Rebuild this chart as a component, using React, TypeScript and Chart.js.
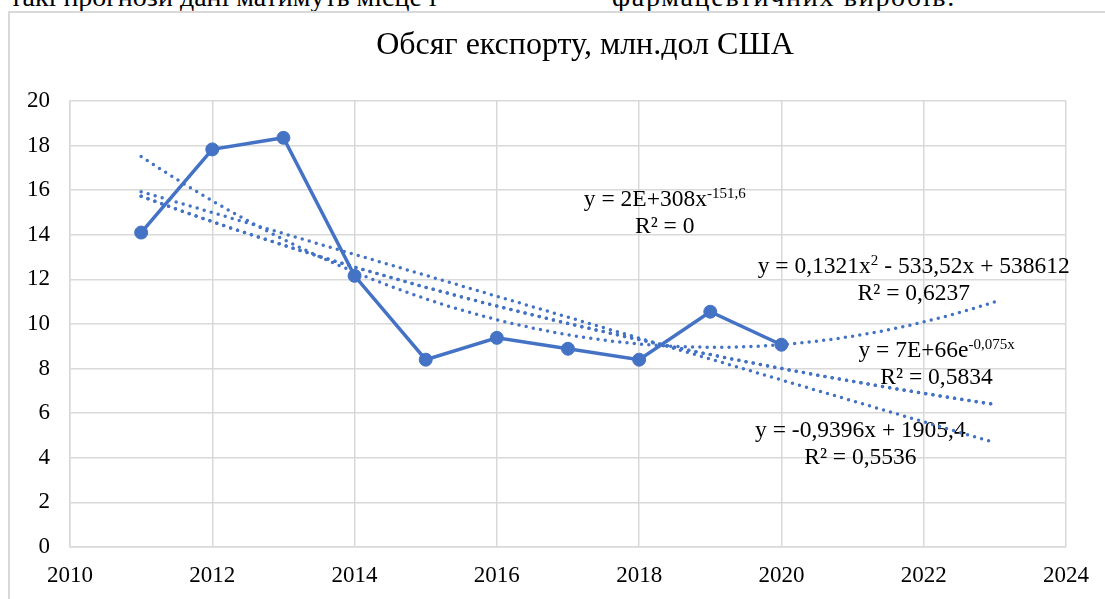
import React, { useEffect, useRef } from "react";
import { Chart, registerables } from "chart.js";

Chart.register(...registerables);

// ---------- data ----------
const years = [2011, 2012, 2013, 2014, 2015, 2016, 2017, 2018, 2019, 2020];
const exportVolume = [14.1, 17.83, 18.35, 12.16, 8.4, 9.38, 8.89, 8.4, 10.55, 9.07];
const xTicks = [2010, 2012, 2014, 2016, 2018, 2020, 2022, 2024];
const yTicks = [0, 2, 4, 6, 8, 10, 12, 14, 16, 18, 20];
const forecastYears = 3;

const chartTitle = "Обсяг експорту, млн.дол США";
const pageTextLeft = "такі прогнози дані матимуть місце і";
const pageTextRight = "фармацевтичних виробів.";

type Seg = [string, boolean];
const powerEq: Seg[] = [["y = 2E+308x", false], ["-151,6", true]];
const powerR2: Seg[] = [["R² = 0", false]];
const polyEq: Seg[] = [["y = 0,1321x", false], ["2", true], [" - 533,52x + 538612", false]];
const polyR2: Seg[] = [["R² = 0,6237", false]];
const expEq: Seg[] = [["y = 7E+66e", false], ["-0,075x", true]];
const expR2: Seg[] = [["R² = 0,5834", false]];
const linEq: Seg[] = [["y = -0,9396x + 1905,4", false]];
const linR2: Seg[] = [["R² = 0,5536", false]];

// label anchors (data units: centre x, first baseline y)
const trendLabels = [
  { x: 2018.36, y: 15.3, lines: [powerEq, powerR2] },
  { x: 2021.86, y: 12.3, lines: [polyEq, polyR2] },
  { x: 2022.18, y: 8.54, lines: [expEq, expR2] },
  { x: 2021.11, y: 4.93, lines: [linEq, linR2] },
];

// ---------- regressions (least squares from the data) ----------
function linFit(xs: number[], ys: number[]) {
  const n = xs.length;
  const mx = xs.reduce((a, b) => a + b, 0) / n;
  const my = ys.reduce((a, b) => a + b, 0) / n;
  let sxy = 0, sxx = 0;
  for (let i = 0; i < n; i++) {
    sxy += (xs[i] - mx) * (ys[i] - my);
    sxx += (xs[i] - mx) * (xs[i] - mx);
  }
  const b = sxy / sxx;
  return { a: my - b * mx, b };
}

function quadFit(xs: number[], ys: number[]) {
  const n = xs.length;
  const mx = xs.reduce((a, b) => a + b, 0) / n;
  const u = xs.map((x) => x - mx);
  const s = [0, 0, 0, 0, 0];
  const t = [0, 0, 0];
  for (let i = 0; i < n; i++) {
    for (let k = 0; k < 5; k++) s[k] += Math.pow(u[i], k);
    for (let k = 0; k < 3; k++) t[k] += Math.pow(u[i], k) * ys[i];
  }
  const M = [
    [s[0], s[1], s[2], t[0]],
    [s[1], s[2], s[3], t[1]],
    [s[2], s[3], s[4], t[2]],
  ];
  for (let c = 0; c < 3; c++) {
    for (let r = c + 1; r < 3; r++) {
      const f = M[r][c] / M[c][c];
      for (let k = c; k < 4; k++) M[r][k] -= f * M[c][k];
    }
  }
  const coef = [0, 0, 0];
  for (let r = 2; r >= 0; r--) {
    let v = M[r][3];
    for (let k = r + 1; k < 3; k++) v -= M[r][k] * coef[k];
    coef[r] = v / M[r][r];
  }
  return (x: number) => coef[0] + coef[1] * (x - mx) + coef[2] * (x - mx) * (x - mx);
}

const lin = linFit(years, exportVolume);
const quad = quadFit(years, exportVolume);
const expo = linFit(years, exportVolume.map((v) => Math.log(v)));
const pow = linFit(years.map((v) => Math.log(v)), exportVolume.map((v) => Math.log(v)));

const trendStart = years[0];
const trendEnd = years[years.length - 1] + forecastYears;
const trendXs: number[] = [];
for (let x = trendStart; x <= trendEnd + 1e-9; x += 0.25) trendXs.push(x);

const trendLinear = trendXs.map((x) => ({ x, y: lin.a + lin.b * x }));
const trendPoly = trendXs.map((x) => ({ x, y: quad(x) }));
const trendExp = trendXs.map((x) => ({ x, y: Math.exp(expo.a + expo.b * x) }));
const trendPower = trendXs.map((x) => ({ x, y: Math.exp(pow.a + pow.b * Math.log(x)) }));

const BLUE = "#4472C4";
const FONT = '"Liberation Serif", "Times New Roman", serif';

function drawRich(ctx: CanvasRenderingContext2D, segs: Seg[], cx: number, by: number) {
  const mainFont = `23.5px ${FONT}`;
  const supFont = `15px ${FONT}`;
  let total = 0;
  const widths = segs.map(([t, sup]) => {
    ctx.font = sup ? supFont : mainFont;
    const w = ctx.measureText(t).width;
    total += w;
    return w;
  });
  let x = cx - total / 2;
  segs.forEach(([t, sup], i) => {
    ctx.font = sup ? supFont : mainFont;
    ctx.fillText(t, x, sup ? by - 8 : by);
    x += widths[i];
  });
}

const overlayPlugin = {
  id: "overlayText",
  beforeDatasetsDraw(chart: any) {
    const ctx: CanvasRenderingContext2D = chart.ctx;
    const xs = chart.scales.x;
    const ys = chart.scales.y;
    ctx.save();
    ctx.fillStyle = "#000";
    ctx.textAlign = "left";
    ctx.textBaseline = "alphabetic";
    trendLabels.forEach((l) => {
      const cx = xs.getPixelForValue(l.x);
      const by = ys.getPixelForValue(l.y);
      l.lines.forEach((segs, i) => drawRich(ctx, segs, cx, by + i * 27));
    });
    ctx.restore();
  },
  afterDraw(chart: any) {
    const ctx: CanvasRenderingContext2D = chart.ctx;
    ctx.save();
    ctx.fillStyle = "#000";
    ctx.font = `32px ${FONT}`;
    ctx.textAlign = "center";
    ctx.textBaseline = "alphabetic";
    ctx.fillText(chartTitle, 585, 54);
    ctx.restore();
  },
};

const trendStyle = {
  showLine: true,
  borderColor: BLUE,
  borderWidth: 3.5,
  borderDash: [0, 7.3],
  borderCapStyle: "round" as const,
  pointRadius: 0,
  fill: false,
  order: 1,
};

export default function App() {
  const canvasRef = useRef<HTMLCanvasElement | null>(null);

  useEffect(() => {
    if (!canvasRef.current) return;
    const chart = new Chart(canvasRef.current, {
      type: "scatter",
      data: {
        datasets: [
          {
            label: "Обсяг експорту",
            data: years.map((x, i) => ({ x, y: exportVolume[i] })),
            showLine: true,
            borderColor: BLUE,
            borderWidth: 3.5,
            pointRadius: 6.5,
            pointBackgroundColor: BLUE,
            pointBorderColor: BLUE,
            pointBorderWidth: 1,
            order: 0,
          },
          { label: "linear", data: trendLinear, ...trendStyle },
          { label: "poly", data: trendPoly, ...trendStyle },
          { label: "exp", data: trendExp, ...trendStyle },
          { label: "power", data: trendPower, ...trendStyle },
        ],
      },
      options: {
        responsive: false,
        animation: false,
        layout: { padding: { left: 0, top: 101, right: 39, bottom: 12 } },
        plugins: {
          legend: { display: false },
          tooltip: { enabled: false },
          title: { display: false },
        },
        elements: { line: { tension: 0 } },
        scales: {
          x: {
            type: "linear",
            min: xTicks[0],
            max: xTicks[xTicks.length - 1],
            afterBuildTicks: (scale: any) => {
              scale.ticks = xTicks.map((v) => ({ value: v }));
            },
            afterFit: (scale: any) => {
              scale.height = 40;
            },
            grid: { color: "#d9d9d9", lineWidth: 1.5, drawTicks: false },
            border: { color: "#d9d9d9", width: 1.5 },
            ticks: {
              padding: 15,
              maxRotation: 0,
              autoSkip: false,
              color: "#000",
              font: { family: FONT, size: 23 },
              callback: (v: any) => String(v),
            },
          },
          y: {
            min: yTicks[0],
            max: yTicks[yTicks.length - 1],
            afterBuildTicks: (scale: any) => {
              scale.ticks = yTicks.map((v) => ({ value: v }));
            },
            afterFit: (scale: any) => {
              scale.width = 70;
            },
            grid: { color: "#d9d9d9", lineWidth: 1.5, drawTicks: false },
            border: { color: "#d9d9d9", width: 1.5 },
            ticks: {
              padding: 20,
              color: "#000",
              font: { family: FONT, size: 23 },
              callback: (v: any) => String(v),
            },
          },
        },
      },
      plugins: [overlayPlugin],
    });
    return () => chart.destroy();
  }, []);

  return (
    <div
      style={{
        position: "fixed",
        left: 0,
        top: 0,
        width: 1105,
        height: 599,
        overflow: "hidden",
        background: "#fff",
      }}
    >
      <div
        style={{
          position: "absolute",
          left: 0,
          top: 0,
          width: 1105,
          height: 11,
          overflow: "hidden",
          fontFamily: FONT,
          fontSize: 28,
          lineHeight: "28px",
          color: "#000",
          whiteSpace: "nowrap",
        }}
      >
        <span style={{ position: "absolute", left: 10, top: -17 }}>{pageTextLeft}</span>
        <span style={{ position: "absolute", left: 612, top: -17, letterSpacing: "1.7px" }}>
          {pageTextRight}
        </span>
      </div>
      <div
        style={{
          position: "absolute",
          left: 8,
          top: 11,
          width: 1200,
          height: 700,
          border: "2px solid #d9d9d9",
          boxSizing: "border-box",
        }}
      />
      <canvas
        ref={canvasRef}
        width={1105}
        height={599}
        style={{ position: "absolute", left: 0, top: 0, width: 1105, height: 599 }}
      />
    </div>
  );
}
